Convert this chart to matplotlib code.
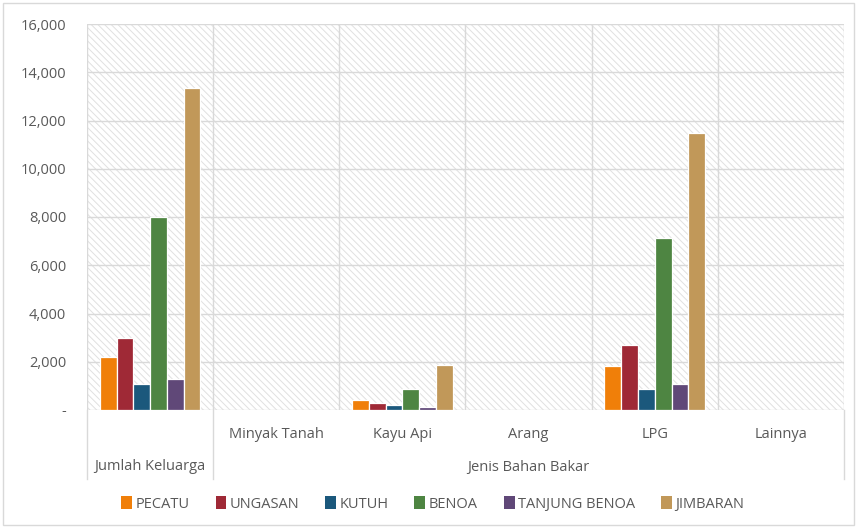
import numpy as np
import matplotlib
matplotlib.use("Agg")
import matplotlib.pyplot as plt
from matplotlib.patches import Rectangle, Patch
from matplotlib.lines import Line2D

# data
categories = ["Jumlah Keluarga", "Minyak Tanah", "Kayu Api", "Arang", "LPG", "Lainnya"]
groups = ["Jumlah Keluarga", "Jenis Bahan Bakar"]
series = ["PECATU", "UNGASAN", "KUTUH", "BENOA", "TANJUNG BENOA", "JIMBARAN"]
pecatu = [2200, 0, 415, 0, 1810, 0]
ungasan = [3000, 0, 280, 0, 2710, 0]
kutuh = [1080, 0, 195, 0, 860, 0]
benoa = [8000, 0, 860, 0, 7130, 0]
tanjung_benoa = [1285, 0, 125, 0, 1080, 0]
jimbaran = [13340, 0, 1865, 0, 11470, 0]
values = [pecatu, ungasan, kutuh, benoa, tanjung_benoa, jimbaran]
colors = ["#F07F09", "#9F2936", "#1B587C", "#4E8542", "#604878", "#C19859"]

plt.rcParams['font.family'] = ['Open Sans', 'DejaVu Sans']
plt.rcParams['hatch.linewidth'] = 0.7
txt = "#595959"
grid = "#d9d9d9"
fs = 10.5

fig = plt.figure(figsize=(8.57, 5.28), dpi=100)
fig.patches.append(Rectangle((0.004, 0.006), 0.992, 0.988, transform=fig.transFigure,
                             fill=False, edgecolor=grid, lw=1))
ax = fig.add_axes([87 / 857, 1 - 410 / 528, (844 - 87) / 857, (410 - 24) / 528])

# hatched plot background
ax.add_patch(Rectangle((0, 0), 1, 1, transform=ax.transAxes, facecolor="white",
                       edgecolor="#e0e0e0", hatch="\\\\\\\\\\", lw=0, zorder=0))

x = np.arange(len(categories))
step = 0.133
for i, (name, vals, c) in enumerate(zip(series, values, colors)):
    ax.bar(x + (i - 2.5) * step, vals, width=step, color=c, edgecolor="white",
           linewidth=0.9, label=name, zorder=3)

ax.set_xlim(-0.5, len(categories) - 0.5)
ax.set_ylim(0, 16000)
yt = np.arange(0, 16001, 2000)
ax.set_yticks(yt)
ax.set_yticklabels(["-" if v == 0 else f"{v:,}" for v in yt], color=txt, fontsize=fs)
ax.tick_params(axis="y", length=0, pad=15)
ax.set_xticks([])
for s in ax.spines.values():
    s.set_visible(False)
for v in yt:
    ax.axhline(v, color=grid, lw=1, zorder=1)
for b in np.arange(-0.5, len(categories), 1):
    ax.axvline(b, color=grid, lw=1, zorder=1)

# multi-level category axis
for b in [-0.5, 0.5, len(categories) - 0.5]:
    ax.add_line(Line2D([b, b], [0, -69 / 386], transform=ax.get_xaxis_transform(),
                       color=grid, lw=1, clip_on=False))
for i, cat in enumerate(categories[1:], start=1):
    ax.text(i, -25 / 386, cat, transform=ax.get_xaxis_transform(), ha="center",
            va="center", fontsize=fs, color=txt)
ax.text(0, -57 / 386, groups[0], transform=ax.get_xaxis_transform(), ha="center",
        va="center", fontsize=fs, color=txt)
ax.text(3, -57 / 386, groups[1], transform=ax.get_xaxis_transform(), ha="center",
        va="center", fontsize=fs, color=txt)

handles = [Patch(facecolor=c, edgecolor="none") for c in colors]
leg = fig.legend(handles, series, loc="center", bbox_to_anchor=(0.505, 1 - 504 / 528),
                 ncol=6, frameon=False, fontsize=10.5, handlelength=0.75, handleheight=0.9,
                 handletextpad=0.25, columnspacing=1.75)
for t in leg.get_texts():
    t.set_color(txt)

fig.savefig("out.png", dpi=100)
